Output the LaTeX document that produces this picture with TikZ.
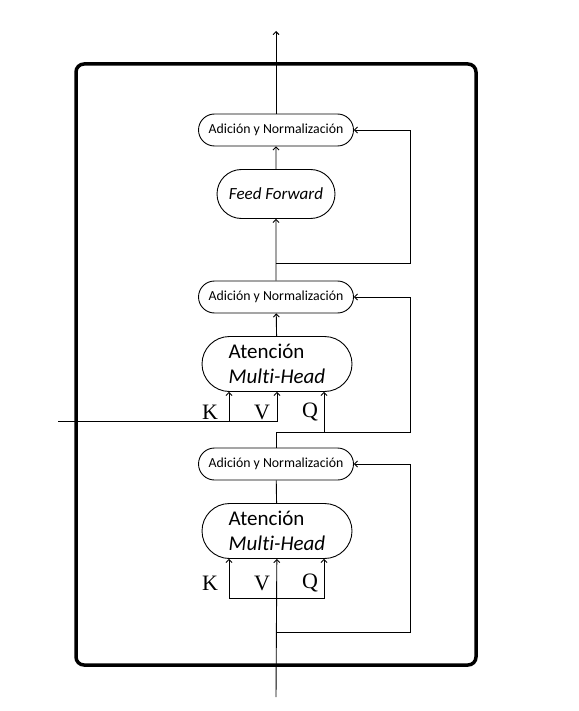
\documentclass[tikz,border=0pt]{standalone}
\usepackage{fontspec}
\newfontfamily\boxfont[Ligatures=NoCommon]{Carlito}
\newfontfamily\kvqfont{Liberation Serif}
\usetikzlibrary{arrows.meta,shapes.misc}

\begin{document}
\begin{tikzpicture}[x=1pt,y=-1pt, line width=0.9pt,
	>={Straight Barb[length=3pt,width=6pt]},
	addnorm/.style={draw, rounded rectangle, minimum width=155pt, minimum height=32pt, inner sep=0pt, font=\boxfont\fontsize{13.8}{15}\selectfont},
	ffbox/.style={draw, rounded rectangle, minimum width=118pt, minimum height=49pt, inner sep=0pt, font=\boxfont\itshape\fontsize{17}{20}\selectfont},
	attbox/.style={draw, rounded rectangle, minimum width=150pt, minimum height=55pt, inner sep=0pt, align=left, font=\boxfont\fontsize{21}{25}\selectfont},
	kvq/.style={anchor=base, inner sep=0pt, font=\kvqfont\fontsize{22}{24}\selectfont}]
	\useasboundingbox (0,0) rectangle (578,711);
	
	% Marco
	\draw[line width=3.5pt, rounded corners=8pt] (76,64) rectangle (476,665);
	
	% Bloques
	\node[addnorm] (an3) at (276,130) {Adición y Normalización};
	\node[ffbox] (ff) at (276,194) {Feed Forward};
	\node[addnorm] (an2) at (276,297) {Adición y Normalización};
	\node[attbox] (att2) at (277,364) {Atención\\\textit{Multi-Head}};
	\node[addnorm] (an1) at (276,464) {Adición y Normalización};
	\node[attbox] (att1) at (277,531) {Atención\\\textit{Multi-Head}};
	
	% Entradas K, V, Q
	\coordinate (k2) at ([xshift=-48pt]att2.south);
	\coordinate (q2) at ([xshift=47pt]att2.south);
	\coordinate (k1) at ([xshift=-48pt]att1.south);
	\coordinate (q1) at ([xshift=47pt]att1.south);
	\node[kvq] (lk2) at (210,419) {K};
	\node[kvq] (lv2) at (262,419) {V};
	\node[kvq] (lq2) at (310,417) {Q};
	\node[kvq] (lk1) at (210,590) {K};
	\node[kvq] (lv1) at (262,590) {V};
	\node[kvq] (lq1) at (310,588) {Q};
	
	% Puntos libres
	\coordinate (out) at (276,31);
	\coordinate (in) at (276,697);
	\coordinate (enc) at (58,421);
	\coordinate (r3) at (276,263);
	\coordinate (r2) at (276,432);
	\coordinate (r1) at (276,632);
	\coordinate (kq1) at (276,598);
	
	% Flujo principal
	\draw[->] (an3) -- (out);
	\draw[->] (ff) -- (an3);
	\draw[->] (an2) -- (ff);
	\draw[->] (att2) -- (an2);
	\draw (an1) -- (r2);
	\draw (att1) -- (an1);
	\draw[->] (in) -- (att1);
	
	% Conexiones residuales
	\draw[->] (r3) -- ++(134,0) |- (an3.east);
	\draw[->] (r2) -- ++(134,0) |- (an2.east);
	\draw[->] (r1) -- ++(134,0) |- (an1.east);
	
	% Entradas de la atencion
	\draw[->] (enc) -| (att2.south);
	\draw[->] (k2 |- enc) -- (k2);
	\draw[->] (q2 |- r2) -- (q2);
	\draw[->] (kq1) -| (k1);
	\draw[->] (kq1) -| (q1);
\end{tikzpicture}
\end{document}
